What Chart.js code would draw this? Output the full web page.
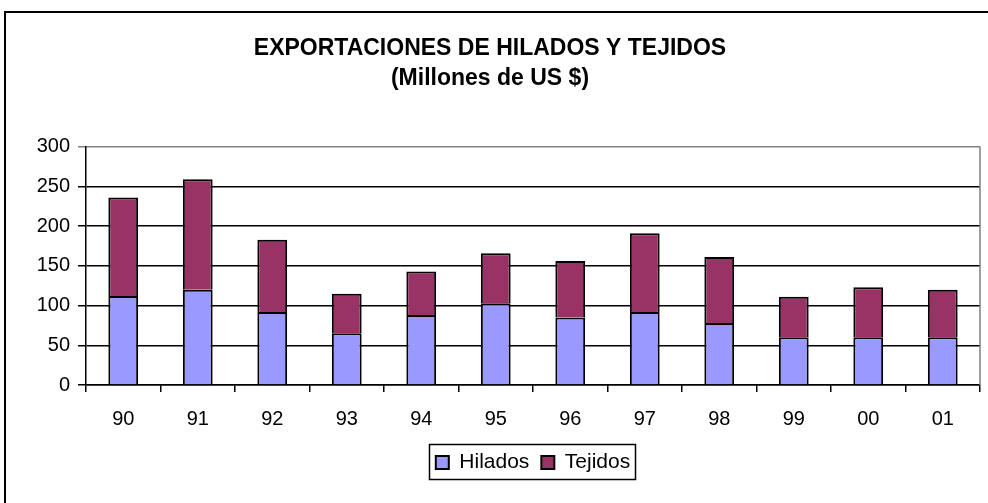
<!DOCTYPE html>
<html>
<head>
<meta charset="utf-8">
<script src="https://cdn.jsdelivr.net/npm/chart.js@4/dist/chart.umd.min.js"></script>
<style>
  html, body { margin: 0; padding: 0; background: #fff; }
  #wrap { position: relative; width: 988px; height: 503px; }
</style>
</head>
<body>
<div id="wrap"><canvas id="c" width="988" height="503"></canvas></div>
<script>
const categories = ['90','91','92','93','94','95','96','97','98','99','00','01'];
const hilados = [112, 120, 92, 65, 88, 103, 85, 92, 78, 60, 60, 60];
const tejidos = [124, 139, 91, 50, 55, 63, 71, 99, 83, 51, 63, 60];
const titleLines = ['EXPORTACIONES DE HILADOS Y TEJIDOS', '(Millones de US $)'];
const yTicks = [0, 50, 100, 150, 200, 250, 300];

const FONT = "'Liberation Sans', Arial, sans-serif";

const framePlugin = {
  id: 'frame',
  beforeDraw(chart) {
    const ctx = chart.ctx;
    ctx.save();
    ctx.fillStyle = '#fff';
    ctx.fillRect(0, 0, chart.width, chart.height);
    ctx.strokeStyle = '#000';
    ctx.lineWidth = 2;
    ctx.strokeRect(5, 12, chart.width + 10, chart.height + 10);
    ctx.restore();
  },
  afterDraw(chart) {
    const ctx = chart.ctx;
    const a = chart.chartArea;
    ctx.save();
    ctx.strokeStyle = '#808080';
    ctx.lineWidth = 1.5;
    ctx.beginPath();
    ctx.moveTo(a.right, a.top);
    ctx.lineTo(a.right, a.bottom);
    ctx.stroke();
    const boxes = chart.legend.legendHitBoxes;
    if (boxes && boxes.length) {
      let l = Infinity, r = -Infinity, t = Infinity, b = -Infinity;
      boxes.forEach(h => {
        l = Math.min(l, h.left); r = Math.max(r, h.left + h.width);
        t = Math.min(t, h.top); b = Math.max(b, h.top + h.height);
      });
      ctx.strokeStyle = '#000';
      ctx.lineWidth = 1.5;
      ctx.strokeRect(Math.round(l - 7) + 0.5, Math.round(t - 8) + 0.5, Math.round(r - l + 12), Math.round(b - t + 14));
    }
    ctx.restore();
  }
};

new Chart(document.getElementById('c'), {
  type: 'bar',
  data: {
    labels: categories,
    datasets: [
      { label: 'Hilados', data: hilados, backgroundColor: '#9999FF', borderColor: '#000', borderWidth: 2, borderSkipped: 'bottom', categoryPercentage: 1, barPercentage: 0.4 },
      { label: 'Tejidos', data: tejidos, backgroundColor: '#993366', borderColor: '#000', borderWidth: 2, borderSkipped: 'bottom', categoryPercentage: 1, barPercentage: 0.4 }
    ]
  },
  options: {
    responsive: false,
    animation: false,
    devicePixelRatio: 1,
    layout: { padding: { left: 0, right: 8, top: 0, bottom: 20 } },
    plugins: {
      title: {
        display: true,
        text: titleLines,
        color: '#000',
        font: { family: FONT, size: 23, weight: 'bold', lineHeight: 1.32 },
        padding: { top: 33, bottom: 53 }
      },
      legend: {
        display: true,
        position: 'bottom',
        fullSize: false,
        labels: {
          color: '#000',
          font: { family: FONT, size: 21 },
          boxWidth: 13,
          boxHeight: 13,
          padding: 12
        }
      },
      tooltip: { enabled: false }
    },
    scales: {
      x: {
        stacked: true,
        offset: true,
        grid: { offset: true, drawOnChartArea: false, drawTicks: true, tickLength: 7, color: '#000', lineWidth: 1.5 },
        border: { color: '#000', width: 1.5 },
        ticks: { color: '#000', font: { family: FONT, size: 20 }, padding: 15, maxRotation: 0 },
        afterFit(scale) { scale.height = 55; }
      },
      y: {
        stacked: true,
        min: 0,
        max: 300,
        afterBuildTicks(scale) { scale.ticks = yTicks.map(v => ({ value: v })); },
        grid: {
          color: ctx => (ctx.tick && ctx.tick.value === 300) ? '#808080' : '#000',
          lineWidth: 1.5,
          drawTicks: true,
          tickLength: 8
        },
        border: { color: '#000', width: 1.5 },
        ticks: { color: '#000', font: { family: FONT, size: 20 }, padding: 8 },
        afterFit(scale) { scale.width = 86; }
      }
    }
  },
  plugins: [framePlugin]
});
</script>
</body>
</html>
